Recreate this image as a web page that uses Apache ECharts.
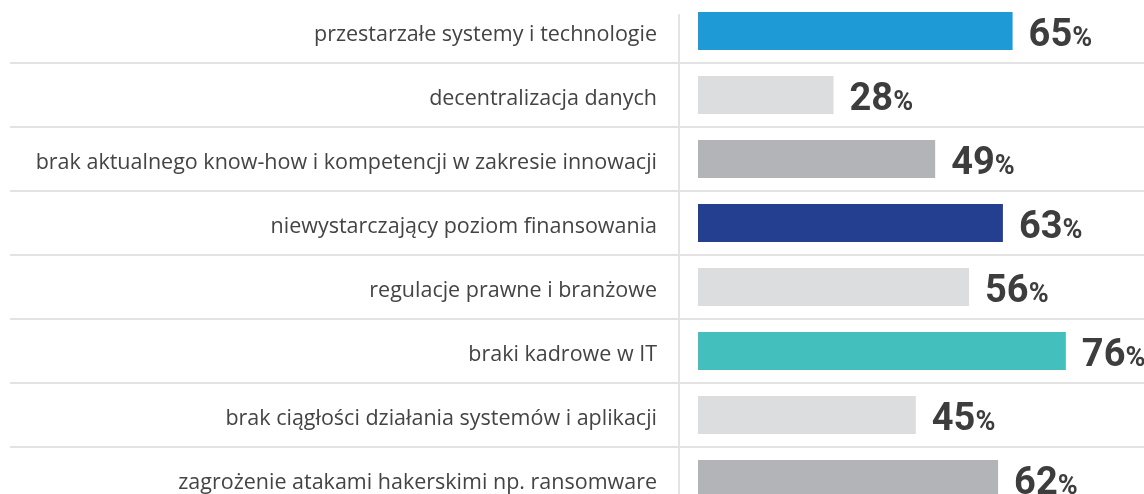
<!DOCTYPE html>
<html>
<head>
<meta charset="utf-8">
<script src="https://cdn.jsdelivr.net/npm/echarts@6/dist/echarts.min.js"></script>
<style>
html,body{margin:0;padding:0;background:#fff;}
#chart{width:1144px;height:494px;}
</style>
</head>
<body>
<div id="chart"></div>
<script>
const categories = [
  'przestarzałe systemy i technologie',
  'decentralizacja danych',
  'brak aktualnego know-how i kompetencji w zakresie innowacji',
  'niewystarczający poziom finansowania',
  'regulacje prawne i branżowe',
  'braki kadrowe w IT',
  'brak ciągłości działania systemów i aplikacji',
  'zagrożenie atakami hakerskimi np. ransomware'
];
const values = [65, 28, 49, 63, 56, 76, 45, 62];
const barColors = ['#1e9ad6', '#dcdddf', '#b3b4b8', '#243f8f', '#dcdddf', '#43c0bd', '#dcdddf', '#b3b4b8'];

const chart = echarts.init(document.getElementById('chart'), null, {renderer: 'canvas'});
chart.setOption({
  animation: false,
  backgroundColor: '#ffffff',
  grid: [
    {left: 10, top: -1, width: 1172, height: 512, containLabel: false, outerBoundsMode: 'none'},
    {left: 679, top: 15, width: 10, height: 490, containLabel: false, outerBoundsMode: 'none'}
  ],
  xAxis: [
    {type: 'value', min: -142.15, max: 100, show: false},
    {type: 'value', gridIndex: 1, min: 0, max: 1, show: false}
  ],
  yAxis: [{
    type: 'category',
    inverse: true,
    data: categories,
    offset: -669,
    axisLine: {show: false, onZero: false},
    axisTick: {show: false},
    axisLabel: {margin: 22, color: '#444444', fontSize: 21.5, verticalAlign: 'top', lineHeight: 8, fontFamily: '"Open Sans", "Noto Sans", sans-serif'},
    splitLine: {show: true, lineStyle: {color: '#e3e3e3', width: 2}}
  }, {
    type: 'category',
    gridIndex: 1,
    data: [''],
    axisLine: {show: true, onZero: false, lineStyle: {color: '#e3e3e3', width: 2}},
    axisTick: {show: false},
    axisLabel: {show: false},
    splitLine: {show: false}
  }],
  series: [{
    type: 'bar',
    barWidth: 38,
    data: values.map((v, i) => ({value: v, itemStyle: {color: barColors[i]}})),
    label: {
      show: true,
      position: 'right',
      distance: 16,
      offset: [0, 5],
      formatter: p => '{n|' + p.value + '}{p|%}',
      rich: {
        n: {fontFamily: '"Liberation Sans Narrow", "Roboto", sans-serif', fontWeight: 'bold', fontSize: 38, color: '#3d3d3d'},
        p: {fontFamily: '"Liberation Sans Narrow", "Roboto", sans-serif', fontWeight: 'bold', fontSize: 27, color: '#3d3d3d', padding: [6, 0, 0, 0]}
      }
    }
  }]
});
</script>
</body>
</html>
